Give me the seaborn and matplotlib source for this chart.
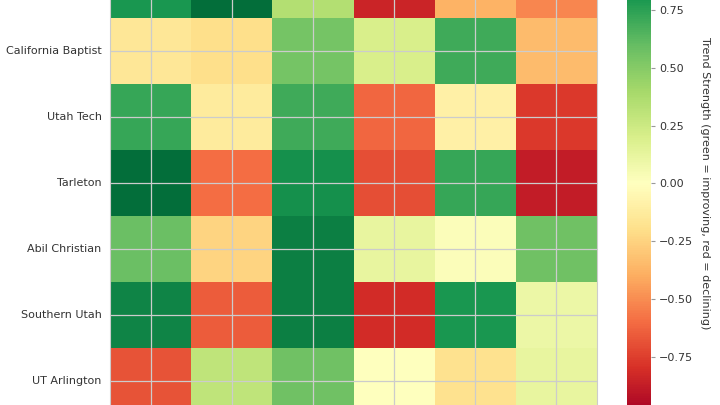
import numpy as np
import pandas as pd
import matplotlib
matplotlib.use("Agg")
import matplotlib.pyplot as plt
import seaborn as sns

# rows top to bottom (top row's label is cut off in the reference)
teams = ["", "California Baptist", "Utah Tech", "Tarleton",
         "Abil Christian", "Southern Utah", "UT Arlington"]
metrics = ["m1", "m2", "m3", "m4", "m5", "m6"]

col1 = [0.80, -0.15, 0.72, 0.97, 0.58, 0.88, -0.68]
col2 = [0.97, -0.20, -0.13, -0.60, -0.25, -0.65, 0.30]
col3 = [0.35, 0.55, 0.70, 0.83, 0.90, 0.90, 0.57]
col4 = [-0.85, 0.20, -0.62, -0.70, 0.12, -0.82, 0.00]
col5 = [-0.38, 0.70, -0.10, 0.72, 0.02, 0.80, -0.18]
col6 = [-0.52, -0.35, -0.77, -0.88, 0.57, 0.10, 0.12]

cbar_label = "Trend Strength (green = improving, red = declining)"

df = pd.DataFrame(np.column_stack([col1, col2, col3, col4, col5, col6]),
                  index=teams, columns=metrics)

sns.set_style("whitegrid")
plt.rcParams['font.family'] = ['DejaVu Sans']
FS = 8

fig = plt.figure(figsize=(7.2, 4.05), dpi=100)
# the chart in the reference is cropped: axes run past the top and bottom edges
ax = fig.add_axes([110 / 720, -9.3 / 405, 487 / 720, 462 / 405])
cax = fig.add_axes([627.3 / 720, -9.3 / 405, 23.4 / 720, 462 / 405])

sns.heatmap(df, ax=ax, cbar_ax=cax, cmap="RdYlGn", vmin=-1, vmax=1,
            xticklabels=False, yticklabels=True)

ax.collections[0].set_zorder(0)
ax.set_xticks(np.arange(len(metrics)) + 0.5)
ax.set_xticklabels([])
ax.grid(True, color="#cccccc", linewidth=0.9)
for s in ax.spines.values():
    s.set_visible(True)
    s.set_color("#cccccc")
ax.tick_params(axis="y", length=0, pad=6, labelsize=FS, labelcolor="#333333", rotation=0)
ax.tick_params(axis="x", length=0)
ax.set_ylabel("")

cbar = ax.collections[0].colorbar
cbar.outline.set_edgecolor("#cccccc")
cbar.ax.tick_params(length=3, width=0.8, color="#999999", labelsize=FS, labelcolor="#333333", pad=3)
cbar.set_ticks([-0.75, -0.5, -0.25, 0.0, 0.25, 0.5, 0.75])
cbar.set_label(cbar_label, rotation=270, labelpad=12, fontsize=FS, color="#333333")

fig.savefig("out.png", dpi=100)
